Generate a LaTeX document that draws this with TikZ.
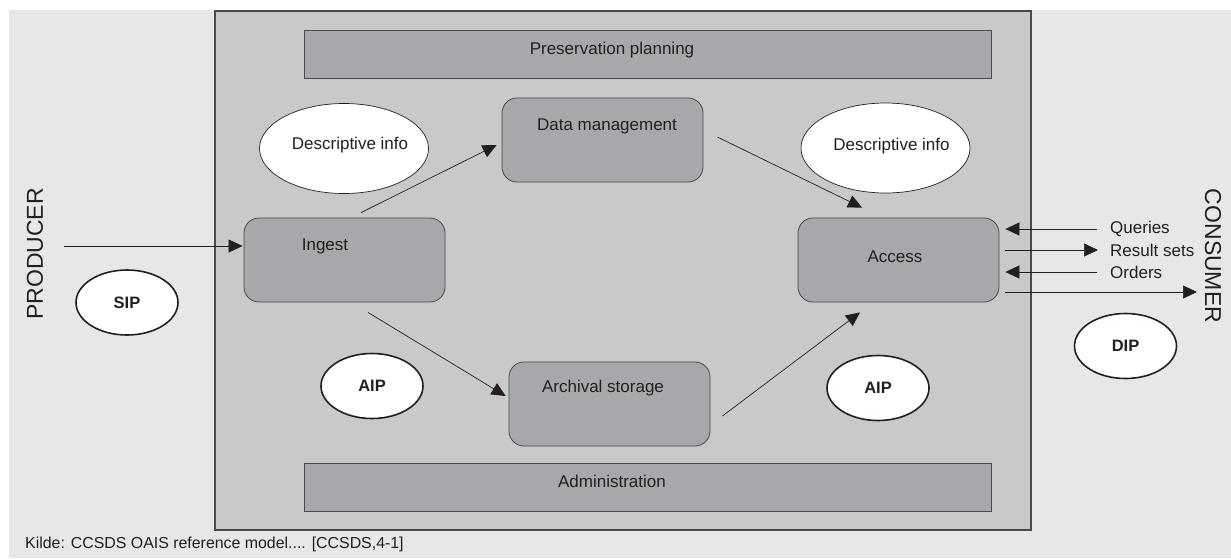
\documentclass[tikz,border=0pt]{standalone}
\usepackage{fontspec}
\setmainfont{Liberation Sans}
\usetikzlibrary{arrows.meta,shapes.geometric}
\definecolor{paperbg}{HTML}{E6E7E7}
\definecolor{archbg}{HTML}{C8C9CB}
\definecolor{funcfill}{HTML}{A7A8AB}
\definecolor{inkline}{HTML}{231F20}
\definecolor{boxline}{HTML}{4A4A4C}

\begin{document}
\begin{tikzpicture}[x=1pt,y=-1pt,
  every node/.append style={text=inkline, font=\fontsize{17}{19}\selectfont},
  func/.style={draw=boxline, fill=funcfill, rounded corners=15pt, minimum width=201pt, minimum height=84pt, line width=0.8pt, inner sep=0pt},
  band/.style={draw=boxline, fill=funcfill, minimum width=687pt, minimum height=48pt, line width=0.8pt, inner sep=0pt},
  infobubble/.style={ellipse, draw=inkline, fill=white, minimum width=169pt, minimum height=90pt, line width=0.7pt, inner sep=0pt},
  pkg/.style={ellipse, draw=inkline, fill=white, minimum width=102pt, minimum height=65pt, line width=1.6pt, inner sep=0pt, font=\fontsize{16.5}{18}\selectfont\bfseries},
  flowlbl/.style={anchor=west, inner sep=0pt},
  flow/.style={-{Triangle[length=14pt,width=13pt]}, line width=0.7pt, draw=inkline}]
\useasboundingbox (0,0) rectangle (1231,558);
\fill[white] (0,0) rectangle (1231,558);
\fill[paperbg] (9,10) rectangle (1231,558);
% the archive
\draw[fill=archbg, draw=boxline, line width=1.1pt] (215,11) rectangle (1031,530);

\node[band] (planning) at (647.5,54) {};
\node (planninglbl) at (612,50) {Preservation planning};
\node[band] (admin) at (647.5,487) {};
\node (adminlbl) at (612,481) {Administration};

% functional entities
\node[func] (ingest) at (344.5,260) {};
\node (ingestlbl) at (325,246) {Ingest};
\node[func] (datamgmt) at (602.5,140) {};
\node (datamgmtlbl) at (607,126) {Data management};
\node[func] (storage) at (609.5,404) {};
\node (storagelbl) at (603,388) {Archival storage};
\node[func] (access) at (898.5,260) {};
\node (accesslbl) at (895,257) {Access};

\node[infobubble, label={[xshift=6pt,yshift=3pt]center:Descriptive info}] (descleft) at (344,148.5) {};
\node[infobubble, label={[xshift=6pt,yshift=2pt]center:Descriptive info}] (descright) at (885.5,148) {};

\node[pkg] (sip) at (127,302.5) {SIP};
\node[pkg] (aipleft) at (372,386) {AIP};
\node[pkg] (aipright) at (878,388) {AIP};
\node[pkg] (dip) at (1125.5,346) {DIP};

\node[rotate=90, font=\fontsize{23}{25}\selectfont] (producer) at (35,254) {PRODUCER};
\node[rotate=-90, font=\fontsize{23}{25}\selectfont] (consumer) at (1213,256) {CONSUMER};
\coordinate (prodsrc) at (64,246);
\coordinate (consumerin) at (1197,292);

% flows
\draw[flow] (prodsrc) -- ([xshift=-1pt,yshift=14pt]ingest.west);
\draw[flow] ([xshift=16.5pt,yshift=5pt]ingest.north) -- ([xshift=-5pt,yshift=-5pt]datamgmt.west);
\draw[flow] ([xshift=14pt,yshift=3pt]datamgmt.east) -- ([xshift=-36.5pt,yshift=10pt]access.north);
\draw[flow] ([xshift=23.5pt,yshift=-10pt]ingest.south) -- ([xshift=-3pt,yshift=8pt]storage.west);
\draw[flow] ([xshift=12pt,yshift=-12pt]storage.east) -- ([xshift=-38.5pt,yshift=-10pt]access.south);

\node[flowlbl] (queries) at (1110,229) {Queries};
\node[flowlbl] (results) at (1110,250) {Result sets};
\node[flowlbl] (orders) at (1110,272) {Orders};
\draw[flow] ([xshift=-13pt]queries.west) -- ([xshift=6pt,yshift=31pt]access.east);
\draw[flow] ([xshift=6pt,yshift=10pt]access.east) -- ([xshift=-12pt]results.west);
\draw[flow] ([xshift=-13pt]orders.west) -- ([xshift=6pt,yshift=-12pt]access.east);
\draw[flow] ([xshift=6pt,yshift=-32pt]access.east) -- (consumerin);

\node[anchor=base west, inner sep=0pt, font=\fontsize{15.9}{17}\selectfont] (source) at (25,548) {Kilde: CCSDS OAIS reference model.... [CCSDS,4-1]};
\end{tikzpicture}
\end{document}
